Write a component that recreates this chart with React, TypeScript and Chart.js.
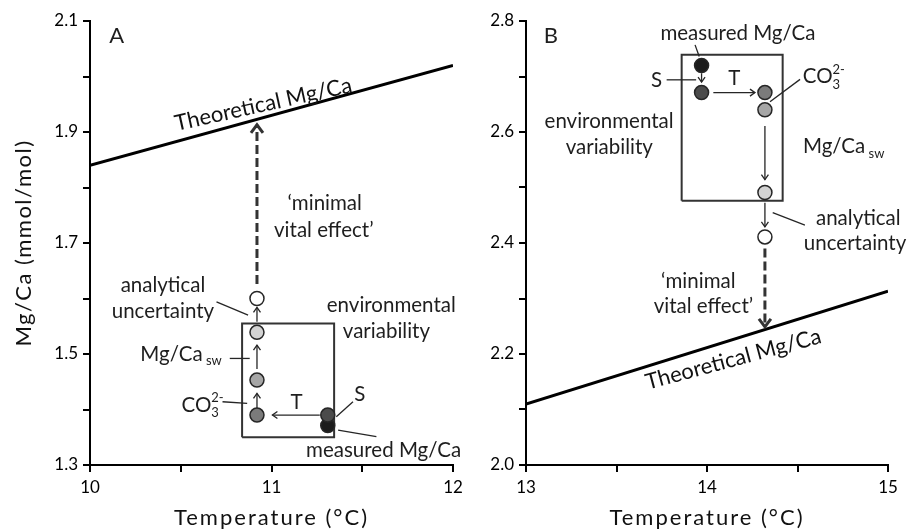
import React, { useEffect, useRef } from 'react';
import { Chart, registerables } from 'chart.js';
Chart.register(...registerables);

// ---------- Panel A data ----------
const tempA = [11.31, 11.31, 10.92, 10.92, 10.92, 10.92]; // measured, S, T, CO3, Mg/Ca sw, analytical
const mgcaA = [1.371, 1.39, 1.39, 1.453, 1.539, 1.6];
const theoTempA = [10, 12];
const theoMgcaA = [1.84, 2.02];
const boxTempA = [10.838, 11.345];
const boxMgcaA = [1.35, 1.555];
const arrowsA = [
  [11.266, 1.39, 11.005, 1.39],
  [10.92, 1.402, 10.92, 1.429],
  [10.92, 1.473, 10.92, 1.516],
  [10.92, 1.558, 10.92, 1.584],
];
const leadersA = [
  [10.697, 1.594, 10.871, 1.57],
  [10.77, 1.492, 10.88, 1.492],
  [10.73, 1.414, 10.866, 1.411],
  [11.357, 1.387, 11.449, 1.414],
  [11.367, 1.363, 11.578, 1.351],
];
const vitalA = [10.92, 1.626, 10.92, 1.913];
const xRangeA = [10, 12];
const yRangeA = [1.3, 2.1];

// ---------- Panel B data ----------
const tempB = [13.97, 13.97, 14.32, 14.32, 14.32, 14.32];
const mgcaB = [2.72, 2.671, 2.671, 2.64, 2.491, 2.411];
const theoTempB = [13, 15];
const theoMgcaB = [2.11, 2.313];
const boxTempB = [13.86, 14.418];
const boxMgcaB = [2.476, 2.739];
const arrowsB = [
  [13.97, 2.706, 13.97, 2.69],
  [14.035, 2.671, 14.265, 2.671],
  [14.32, 2.611, 14.32, 2.514],
  [14.32, 2.4726, 14.32, 2.429],
];
const leadersB = [
  [13.777, 2.694, 13.94, 2.694],
  [14.348, 2.6545, 14.514, 2.6948],
  [14.363, 2.4546, 14.541, 2.4324],
  [13.934, 2.757, 13.957, 2.736],
];
const vitalB = [14.32, 2.39, 14.32, 2.249];
const xRangeB = [13, 15];
const yRangeB = [2.0, 2.8];

const pointColors = ['#1c1c1c', '#4b4b4b', '#7b7b7b', '#a6a6a6', '#d3d3d3', '#ffffff'];

type Part = { t: string; size?: number; dy?: number; noAdvance?: boolean };
type TextItem = { parts: Part[]; x: number; y: number; align?: 'left' | 'center' | 'right'; size?: number };

const co3: Part[] = [
  { t: 'CO' },
  { t: '2-', size: 13, dy: -7, noAdvance: true },
  { t: '3', size: 13, dy: 8 },
];
const mgcasw: Part[] = [{ t: 'Mg/Ca' }, { t: ' sw', size: 13, dy: 7 }];

const textsA: TextItem[] = [
  { parts: [{ t: 'A' }], x: 10.147, y: 2.073, size: 22 },
  { parts: [{ t: '\u2018minimal' }], x: 11.293, y: 1.7715 },
  { parts: [{ t: 'vital effect\u2019' }], x: 11.288, y: 1.7234 },
  { parts: [{ t: 'analytical' }], x: 10.402, y: 1.624 },
  { parts: [{ t: 'uncertainty' }], x: 10.402, y: 1.576 },
  { parts: [{ t: 'environmental' }], x: 11.66, y: 1.588 },
  { parts: [{ t: 'variability' }], x: 11.633, y: 1.54 },
  { parts: mgcasw, x: 10.726, y: 1.5, align: 'right' },
  { parts: co3, x: 10.504, y: 1.408, align: 'left' },
  { parts: [{ t: 'T' }], x: 11.138, y: 1.412 },
  { parts: [{ t: 'S' }], x: 11.486, y: 1.428 },
  { parts: [{ t: 'measured Mg/Ca' }], x: 11.618, y: 1.327 },
];

const textsB: TextItem[] = [
  { parts: [{ t: 'B' }], x: 13.138, y: 2.773, size: 22 },
  { parts: [{ t: 'measured Mg/Ca' }], x: 14.171, y: 2.778 },
  { parts: [{ t: 'S' }], x: 13.721, y: 2.693 },
  { parts: [{ t: 'T' }], x: 14.151, y: 2.697 },
  { parts: co3, x: 14.529, y: 2.6996, align: 'left' },
  { parts: [{ t: 'environmental' }], x: 13.459, y: 2.6186 },
  { parts: [{ t: 'variability' }], x: 13.46, y: 2.572 },
  { parts: mgcasw, x: 14.53, y: 2.5735, align: 'left' },
  { parts: [{ t: 'analytical' }], x: 14.836, y: 2.4445 },
  { parts: [{ t: 'uncertainty' }], x: 14.818, y: 2.3995 },
  { parts: [{ t: '\u2018minimal' }], x: 13.952, y: 2.33 },
  { parts: [{ t: 'vital effect\u2019' }], x: 13.98, y: 2.285 },
];

const FAMILY = 'Lato, "DejaVu Sans", sans-serif';
const TEXT_COLOR = '#1e1e1e';
const TEXT_SIZE = 20.5;

function drawHead(ctx: CanvasRenderingContext2D, x1: number, y1: number, x2: number, y2: number, len: number, half: number, width: number, color: string) {
  const a = Math.atan2(y2 - y1, x2 - x1);
  const c = Math.cos(a), s = Math.sin(a);
  ctx.save();
  ctx.strokeStyle = color;
  ctx.lineWidth = width;
  ctx.lineJoin = 'miter';
  ctx.lineCap = 'butt';
  ctx.setLineDash([]);
  ctx.beginPath();
  ctx.moveTo(x2 - len * c + half * s, y2 - len * s - half * c);
  ctx.lineTo(x2, y2);
  ctx.lineTo(x2 - len * c - half * s, y2 - len * s + half * c);
  ctx.stroke();
  ctx.restore();
}

function drawRich(ctx: CanvasRenderingContext2D, item: TextItem, px: number, py: number) {
  const base = item.size ?? TEXT_SIZE;
  const widths: number[] = [];
  let total = 0;
  item.parts.forEach((p) => {
    ctx.font = `${p.size ?? base}px ${FAMILY}`;
    const w = ctx.measureText(p.t).width;
    widths.push(w);
    if (!p.noAdvance) total += w;
  });
  const align = item.align ?? 'center';
  let cx = align === 'center' ? px - total / 2 : align === 'right' ? px - total : px;
  ctx.textAlign = 'left';
  ctx.textBaseline = 'middle';
  ctx.fillStyle = TEXT_COLOR;
  item.parts.forEach((p, i) => {
    ctx.font = `${p.size ?? base}px ${FAMILY}`;
    ctx.fillText(p.t, cx, py + (p.dy ?? 0));
    if (!p.noAdvance) cx += widths[i];
  });
}

type PanelCfg = {
  temp: number[]; mgca: number[];
  theoT: number[]; theoM: number[];
  boxT: number[]; boxM: number[];
  arrows: number[][]; leaders: number[][]; vital: number[];
  xr: number[]; yr: number[];
  texts: TextItem[];
  yLabelOdd: boolean;
  yWidth: number; padRight: number;
  theoAnchor: number[]; theoAngle: number;
  yTitle: boolean;
};

const panelA: PanelCfg = {
  temp: tempA, mgca: mgcaA, theoT: theoTempA, theoM: theoMgcaA, boxT: boxTempA, boxM: boxMgcaA,
  arrows: arrowsA, leaders: leadersA, vital: vitalA, xr: xRangeA, yr: yRangeA, texts: textsA,
  yLabelOdd: true, yWidth: 90, padRight: 17, theoAnchor: [10.963, 1.937], theoAngle: -12.5, yTitle: true,
};
const panelB: PanelCfg = {
  temp: tempB, mgca: mgcaB, theoT: theoTempB, theoM: theoMgcaB, boxT: boxTempB, boxM: boxMgcaB,
  arrows: arrowsB, leaders: leadersB, vital: vitalB, xr: xRangeB, yr: yRangeB, texts: textsB,
  yLabelOdd: false, yWidth: 66, padRight: 22, theoAnchor: [14.155, 2.178], theoAngle: -15, yTitle: false,
};

function seg(s: number[], extra: any = {}) {
  return {
    type: 'line' as const,
    data: [{ x: s[0], y: s[1] }, { x: s[2], y: s[3] }],
    borderColor: '#262626',
    borderWidth: 1.3,
    pointRadius: 0,
    pointHoverRadius: 0,
    fill: false,
    tension: 0,
    clip: false as any,
    ...extra,
  };
}

function buildConfig(p: PanelCfg): any {
  const datasets: any[] = [];
  datasets.push({
    type: 'scatter',
    data: p.temp.map((t, i) => ({ x: t, y: p.mgca[i] })),
    backgroundColor: pointColors,
    borderColor: '#262626',
    borderWidth: 1.5,
    pointRadius: 7,
    pointHoverRadius: 7,
    clip: false,
  });
  datasets.push(seg([p.vital[0], p.vital[1], p.vital[2], p.vital[3]], {
    borderColor: '#333333', borderWidth: 3, borderDash: [9, 4], arrowHead: 'big',
  }));
  p.arrows.forEach((a) => datasets.push(seg(a, { arrowHead: 'small' })));
  p.leaders.forEach((a) => datasets.push(seg(a)));
  datasets.push({
    type: 'line',
    data: [
      { x: p.boxT[0], y: p.boxM[0] }, { x: p.boxT[1], y: p.boxM[0] },
      { x: p.boxT[1], y: p.boxM[1] }, { x: p.boxT[0], y: p.boxM[1] },
      { x: p.boxT[0], y: p.boxM[0] },
    ],
    borderColor: '#333333', borderWidth: 2, pointRadius: 0, fill: false, tension: 0, clip: false,
  });
  datasets.push({
    type: 'line',
    data: p.theoT.map((t, i) => ({ x: t, y: p.theoM[i] })),
    borderColor: '#000000', borderWidth: 3, pointRadius: 0, fill: false, tension: 0,
  });

  const overlay = {
    id: 'overlay' + (p.yTitle ? 'A' : 'B'),
    afterDatasetsDraw(chart: any) {
      const ctx: CanvasRenderingContext2D = chart.ctx;
      const xs = chart.scales.x, ys = chart.scales.y;
      chart.data.datasets.forEach((ds: any, i: number) => {
        if (!ds.arrowHead) return;
        const pts = chart.getDatasetMeta(i).data;
        const a = pts[0], b = pts[pts.length - 1];
        if (ds.arrowHead === 'big') drawHead(ctx, a.x, a.y, b.x, b.y, 8, 6, 3, '#333333');
        else drawHead(ctx, a.x, a.y, b.x, b.y, 5, 3.5, 1.3, '#262626');
      });
      ctx.save();
      p.texts.forEach((t) => drawRich(ctx, t, xs.getPixelForValue(t.x), ys.getPixelForValue(t.y)));
      // Theoretical label
      const ax = xs.getPixelForValue(p.theoAnchor[0]);
      const ay = ys.getPixelForValue(p.theoAnchor[1]);
      ctx.translate(ax, ay);
      ctx.rotate((p.theoAngle * Math.PI) / 180);
      ctx.font = `22px ${FAMILY}`;
      ctx.fillStyle = '#111111';
      ctx.textAlign = 'center';
      ctx.textBaseline = 'alphabetic';
      ctx.fillText('Theoretical Mg/Ca', 0, 0);
      ctx.restore();
      // axis titles
      ctx.save();
      const area = chart.chartArea;
      ctx.fillStyle = '#111111';
      ctx.font = `22px ${FAMILY}`;
      (ctx as any).letterSpacing = '2px';
      ctx.textAlign = 'center';
      ctx.textBaseline = 'middle';
      ctx.fillText('Temperature (\u00B0C)', (area.left + area.right) / 2, 518);
      if (p.yTitle) {
        (ctx as any).letterSpacing = '1.5px';
        ctx.translate(24, (area.top + area.bottom) / 2);
        ctx.rotate(-Math.PI / 2);
        ctx.fillText('Mg/Ca (mmol/mol)', 0, 0);
      }
      ctx.restore();
    },
  };

  return {
    type: 'scatter',
    data: { datasets },
    options: {
      responsive: false,
      animation: false,
      devicePixelRatio: 1,
      layout: { padding: { left: 0, top: 21, right: p.padRight, bottom: 0 } },
      plugins: { legend: { display: false }, tooltip: { enabled: false } },
      events: [],
      scales: {
        x: {
          type: 'linear',
          min: p.xr[0],
          max: p.xr[1],
          afterFit: (s: any) => { s.height = 67; },
          grid: { drawOnChartArea: false, drawTicks: true, tickLength: 7, color: '#000', lineWidth: 2 },
          border: { display: true, color: '#000', width: 2 },
          ticks: {
            stepSize: 0.5,
            padding: 5,
            color: '#000',
            font: { family: FAMILY, size: 17 },
            maxRotation: 0,
            autoSkip: false,
            callback: (v: number) => (Math.abs(v - Math.round(v)) < 1e-6 ? String(Math.round(v)) : ''),
          },
        },
        y: {
          type: 'linear',
          min: p.yr[0],
          max: p.yr[1],
          afterFit: (s: any) => { s.width = p.yWidth; },
          grid: { drawOnChartArea: false, drawTicks: true, tickLength: 7, color: '#000', lineWidth: 2 },
          border: { display: true, color: '#000', width: 2 },
          ticks: {
            stepSize: 0.1,
            padding: 5,
            color: '#000',
            font: { family: FAMILY, size: 17 },
            autoSkip: false,
            callback: (v: number) => {
              const k = Math.round(v * 10);
              const odd = Math.abs(k % 2) === 1;
              return odd === p.yLabelOdd ? (k / 10).toFixed(1) : '';
            },
          },
        },
      },
    },
    plugins: [overlay],
  };
}

function Panel({ cfg, left, width }: { cfg: PanelCfg; left: number; width: number }) {
  const ref = useRef<HTMLCanvasElement>(null);
  useEffect(() => {
    const chart = new Chart(ref.current as HTMLCanvasElement, buildConfig(cfg));
    return () => chart.destroy();
  }, [cfg]);
  return (
    <canvas
      ref={ref}
      width={width}
      height={532}
      style={{ position: 'absolute', left, top: 0, width, height: 532 }}
    />
  );
}

export default function App() {
  return (
    <div style={{ position: 'absolute', left: 0, top: 0, width: 910, height: 532, background: '#fff' }}>
      <Panel cfg={panelA} left={0} width={470} />
      <Panel cfg={panelB} left={460} width={450} />
    </div>
  );
}
